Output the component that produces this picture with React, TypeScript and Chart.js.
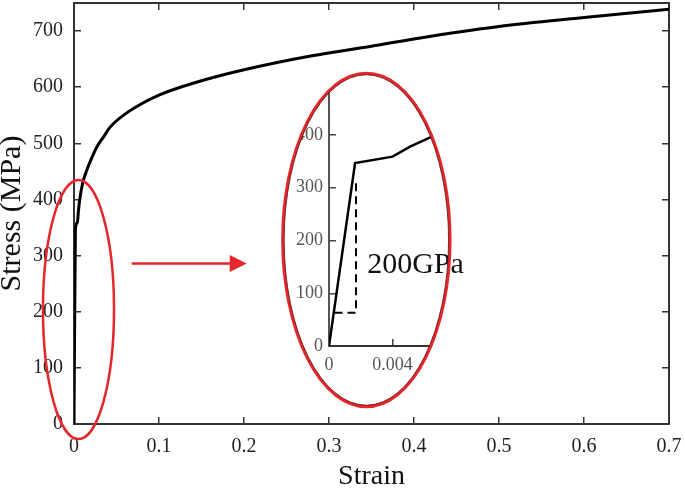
import React, { useEffect, useRef } from "react";
import { Chart, registerables } from "chart.js";

Chart.register(...registerables);

// ---- data ----
const strain = [0, 0.00164, 0.004, 0.0051, 0.0064, 0.01, 0.015, 0.02, 0.027, 0.035, 0.042, 0.06, 0.08, 0.1, 0.14, 0.2, 0.28, 0.35, 0.4, 0.5, 0.6, 0.7];
const stress = [0, 347, 359, 378, 396, 428, 452, 471, 494, 512, 528, 552, 571, 586, 607, 631, 656, 673, 686, 708, 724, 739];

// modulus triangle (dashed) in the inset
const dashStrain = [0.00035, 0.0017, 0.0017];
const dashStress = [63, 63, 318];

const mainXTicks = [0, 0.1, 0.2, 0.3, 0.4, 0.5, 0.6, 0.7];
const mainXLabels = ["0", "0.1", "0.2", "0.3", "0.4", "0.5", "0.6", "0.7"];
const mainYTicks = [0, 100, 200, 300, 400, 500, 600, 700];
const mainYLabels = ["0", "100", "200", "300", "400", "500", "600", "700"];

const insetXTicks = [0, 0.004];
const insetXLabels = ["0", "0.004"];
const insetYTicks = [0, 100, 200, 300, 400, 500];
const insetYLabels = ["0", "100", "200", "300", "400", "500"];

const modulusLabel = "200GPa";

const SERIF = "'Liberation Serif', 'Times New Roman', serif";
const RED = "#e5262b";
const AXIS = "#333";

function tickArr(vals: number[]) {
  return (s: any) => {
    s.ticks = vals.map((v) => ({ value: v }));
  };
}

function fixSize(dim: "width" | "height", val: number) {
  return (s: any) => {
    s[dim] = val;
    s.paddingTop = 0;
    s.paddingBottom = 0;
    s.paddingLeft = 0;
    s.paddingRight = 0;
  };
}

function ellipsePath(ctx: CanvasRenderingContext2D, cx: number, cy: number, rx: number, ry: number) {
  ctx.beginPath();
  ctx.ellipse(cx, cy, rx, ry, 0, 0, Math.PI * 2);
}

export default function App() {
  const mainRef = useRef<HTMLCanvasElement>(null);
  const insetRef = useRef<HTMLCanvasElement>(null);

  useEffect(() => {
    document.body.style.margin = "0";
    const pts = strain.map((x, i) => ({ x, y: stress[i] }));

    const mainAnno = {
      id: "mainAnno",
      afterDraw(chart: any) {
        const { ctx, scales } = chart;
        const xs = scales.x;
        const ys = scales.y;
        // small ellipse around the elastic region
        const cx = xs.getPixelForValue(0.0053);
        const cy = ys.getPixelForValue(204);
        const rx = xs.getPixelForValue(0.0053 + 0.0418) - cx;
        const ry = cy - ys.getPixelForValue(204 + 230.7);
        ctx.save();
        ctx.strokeStyle = RED;
        ctx.lineWidth = 2.5;
        ellipsePath(ctx, cx, cy, rx, ry);
        ctx.stroke();
        // arrow
        const ax0 = xs.getPixelForValue(0.0679);
        const ax1 = xs.getPixelForValue(0.2032);
        const ay = ys.getPixelForValue(286);
        ctx.lineWidth = 2.5;
        ctx.beginPath();
        ctx.moveTo(ax0, ay);
        ctx.lineTo(ax1 - 14, ay);
        ctx.stroke();
        ctx.fillStyle = RED;
        ctx.beginPath();
        ctx.moveTo(ax1, ay);
        ctx.lineTo(ax1 - 17, ay - 8.5);
        ctx.lineTo(ax1 - 17, ay + 8.5);
        ctx.closePath();
        ctx.fill();
        ctx.restore();
      },
    };

    const tickFont = { family: SERIF, size: 20 };

    const main = new Chart(mainRef.current!, {
      type: "line",
      data: {
        datasets: [
          {
            data: pts,
            borderColor: "#000",
            borderWidth: 3,
            pointRadius: 0,
            cubicInterpolationMode: "monotone",
            fill: false,
          } as any,
        ],
      },
      options: {
        animation: false,
        responsive: false,
        devicePixelRatio: 1,
        layout: { padding: 0 },
        plugins: { legend: { display: false }, tooltip: { enabled: false } },
        scales: {
          x: {
            type: "linear",
            position: "bottom",
            min: 0,
            max: 0.7,
            afterBuildTicks: tickArr(mainXTicks),
            afterFit: fixSize("height", 65),
            ticks: {
              font: tickFont,
              color: "#222",
              padding: 18,
              maxRotation: 0,
              autoSkip: false,
              callback: (_v: any, i: number) => mainXLabels[i],
            },
            grid: { drawOnChartArea: false, tickLength: -7, color: AXIS, lineWidth: 1.5 },
            border: { color: AXIS, width: 2 },
            title: {
              display: true,
              text: "Strain",
              color: "#111",
              font: { family: SERIF, size: 28, lineHeight: 0.87 },
              padding: 0,
            },
          },
          x2: {
            type: "linear",
            axis: "x",
            position: "top",
            min: 0,
            max: 0.7,
            afterBuildTicks: tickArr(mainXTicks),
            afterFit: fixSize("height", 3),
            ticks: { display: false },
            grid: { drawOnChartArea: false, tickLength: -7, color: AXIS, lineWidth: 1.5 },
            border: { color: AXIS, width: 2 },
          },
          y: {
            type: "linear",
            position: "left",
            min: 0,
            max: 750,
            afterBuildTicks: tickArr(mainYTicks),
            afterFit: fixSize("width", 74),
            ticks: {
              font: tickFont,
              color: "#222",
              padding: 18,
              autoSkip: false,
              callback: (_v: any, i: number) => mainYLabels[i],
            },
            grid: { drawOnChartArea: false, tickLength: -7, color: AXIS, lineWidth: 1.5 },
            border: { color: AXIS, width: 2 },
            title: {
              display: true,
              text: "Stress (MPa)",
              color: "#111",
              font: { family: SERIF, size: 30, lineHeight: 0.84 },
              padding: 0,
            },
          },
          y2: {
            type: "linear",
            axis: "y",
            position: "right",
            min: 0,
            max: 750,
            afterBuildTicks: tickArr(mainYTicks),
            afterFit: fixSize("width", 16),
            ticks: { display: false },
            grid: { drawOnChartArea: false, tickLength: -7, color: AXIS, lineWidth: 1.5 },
            border: { color: AXIS, width: 2 },
          },
        },
      } as any,
      plugins: [mainAnno],
    });

    // ---- inset ----
    const insetEll = { cx: 0.00235, cy: 201, rx: 0.005264, ry: 316 };
    const insetGeom = (chart: any) => {
      const xs = chart.scales.x;
      const ys = chart.scales.y;
      const cx = xs.getPixelForValue(insetEll.cx);
      const cy = ys.getPixelForValue(insetEll.cy);
      const rx = xs.getPixelForValue(insetEll.cx + insetEll.rx) - cx;
      const ry = cy - ys.getPixelForValue(insetEll.cy + insetEll.ry);
      return { cx, cy, rx, ry };
    };
    const insetAnno = {
      id: "insetAnno",
      beforeDraw(chart: any) {
        const { ctx } = chart;
        const g = insetGeom(chart);
        ctx.save();
        ellipsePath(ctx, g.cx, g.cy, g.rx, g.ry);
        ctx.clip();
        ctx.fillStyle = "#fff";
        ctx.fillRect(0, 0, chart.width, chart.height);
      },
      afterDraw(chart: any) {
        const { ctx } = chart;
        ctx.restore();
        const g = insetGeom(chart);
        ctx.save();
        // label
        ctx.fillStyle = "#111";
        ctx.font = `30px ${SERIF}`;
        ctx.textBaseline = "alphabetic";
        ctx.textAlign = "left";
        ctx.fillText(modulusLabel, chart.scales.x.getPixelForValue(0.0024), chart.scales.y.getPixelForValue(138));
        // ellipse outline
        ctx.strokeStyle = RED;
        ctx.lineWidth = 3;
        ellipsePath(ctx, g.cx, g.cy, g.rx, g.ry);
        ctx.stroke();
        ctx.strokeStyle = "rgba(90,20,20,0.8)";
        ctx.lineWidth = 1;
        ellipsePath(ctx, g.cx, g.cy, g.rx - 1.5, g.ry - 1.5);
        ctx.stroke();
        ctx.restore();
      },
    };

    const insetTickFont = { family: SERIF, size: 18 };
    const inset = new Chart(insetRef.current!, {
      type: "line",
      data: {
        datasets: [
          {
            data: pts,
            borderColor: "#000",
            borderWidth: 2.5,
            pointRadius: 0,
            tension: 0,
            fill: false,
          },
          {
            data: dashStrain.map((x, i) => ({ x, y: dashStress[i] })),
            borderColor: "#000",
            borderWidth: 2,
            borderDash: [8, 5],
            pointRadius: 0,
            tension: 0,
            fill: false,
          },
        ] as any,
      },
      options: {
        animation: false,
        responsive: false,
        devicePixelRatio: 1,
        layout: { padding: { top: 16.25, right: 43.65, left: 0, bottom: 0 } },
        plugins: { legend: { display: false }, tooltip: { enabled: false } },
        scales: {
          x: {
            type: "linear",
            position: "bottom",
            min: 0,
            max: 0.0065,
            afterBuildTicks: tickArr(insetXTicks),
            afterFit: fixSize("height", 68),
            ticks: {
              font: insetTickFont,
              color: "#555",
              padding: 15,
              maxRotation: 0,
              autoSkip: false,
              callback: (_v: any, i: number) => insetXLabels[i],
            },
            grid: { drawOnChartArea: false, tickLength: -7, color: "#444", lineWidth: 1.5 },
            border: { color: "#333", width: 2 },
          },
          y: {
            type: "linear",
            position: "left",
            min: 0,
            max: 500,
            afterBuildTicks: tickArr(insetYTicks),
            afterFit: fixSize("width", 53),
            ticks: {
              font: insetTickFont,
              color: "#555",
              padding: 13,
              autoSkip: false,
              callback: (_v: any, i: number) => insetYLabels[i],
            },
            grid: { drawOnChartArea: false, tickLength: -7, color: "#444", lineWidth: 1.5 },
            border: { color: "#555", width: 2 },
          },
        },
      } as any,
      plugins: [insetAnno],
    });

    return () => {
      main.destroy();
      inset.destroy();
    };
  }, []);

  return (
    <div style={{ position: "relative", width: 685, height: 489, background: "#fff", overflow: "hidden" }}>
      <canvas
        ref={mainRef}
        width={685}
        height={489}
        style={{ position: "absolute", left: 0, top: 0, width: 685, height: 489 }}
      />
      <canvas
        ref={insetRef}
        width={200}
        height={348}
        style={{ position: "absolute", left: 276, top: 66, width: 200, height: 348 }}
      />
    </div>
  );
}
